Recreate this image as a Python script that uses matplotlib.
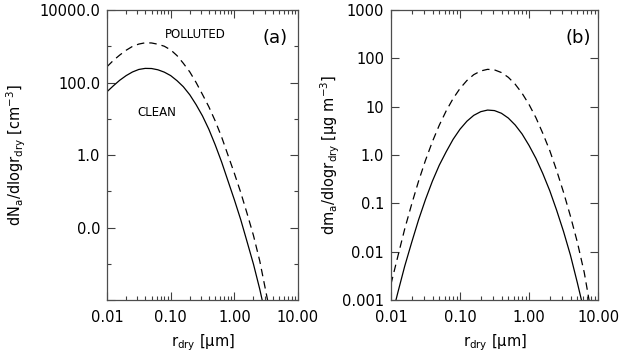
import numpy as np
import matplotlib.pyplot as plt
from matplotlib.ticker import FixedLocator, NullFormatter

plt.rcParams['font.family'] = 'DejaVu Sans'
plt.rcParams['mathtext.default'] = 'regular'

# --- panel (a): number distribution ---
r_clean_a = [0.010, 0.0126, 0.0158, 0.020, 0.0251, 0.0316, 0.0398, 0.0501, 0.0631, 0.0794,
             0.100, 0.126, 0.158, 0.200, 0.251, 0.316, 0.398, 0.501, 0.631, 0.794,
             1.00, 1.26, 1.58, 2.00, 2.51, 2.74]
n_clean = [55.7, 81.3, 115, 155, 195, 229, 245, 243, 224, 193,
           155, 112, 76.6, 45.7, 24.5, 12.0, 5.13, 1.91, 0.646, 0.195,
           0.0589, 0.0166, 0.00417, 0.000977, 0.0002, 0.0001]

r_poll_a = [0.010, 0.0126, 0.0158, 0.020, 0.0251, 0.0316, 0.0398, 0.0501, 0.0631, 0.0794,
            0.100, 0.126, 0.158, 0.200, 0.251, 0.316, 0.398, 0.501, 0.631, 0.794,
            1.00, 1.26, 1.58, 2.00, 2.51, 3.33]
n_poll = [273, 407, 569, 776, 989, 1148, 1245, 1230, 1135, 1000,
          794, 550, 339, 195, 100, 46.8, 21.4, 8.7, 3.16, 1.0,
          0.316, 0.0933, 0.0251, 0.00603, 0.0012, 0.0001]

# --- panel (b): mass distribution ---
r_clean_b = [0.0118, 0.0126, 0.0158, 0.020, 0.0251, 0.0316, 0.0398, 0.0501, 0.0631, 0.0794,
             0.100, 0.126, 0.158, 0.200, 0.251, 0.316, 0.398, 0.501, 0.631, 0.794,
             1.00, 1.26, 1.58, 2.00, 2.51, 3.16, 3.98, 5.01, 5.75]
m_clean = [0.001, 0.00145, 0.00501, 0.0158, 0.0457, 0.120, 0.288, 0.617, 1.17, 2.11,
           3.42, 5.01, 6.61, 7.89, 8.51, 8.30, 7.31, 5.82, 4.17, 2.72,
           1.58, 0.851, 0.417, 0.182, 0.0724, 0.0263, 0.00851, 0.00229, 0.001]

r_poll_b = [0.010, 0.0126, 0.0158, 0.020, 0.0251, 0.0316, 0.0398, 0.0501, 0.0631, 0.0794,
            0.100, 0.126, 0.158, 0.200, 0.251, 0.316, 0.398, 0.501, 0.631, 0.794,
            1.00, 1.26, 1.58, 2.00, 2.51, 3.16, 3.98, 5.01, 6.31, 7.41]
m_poll = [0.00214, 0.00813, 0.0295, 0.0977, 0.288, 0.776, 1.89, 4.14, 8.20, 14.7,
          23.8, 34.8, 45.9, 54.8, 59.2, 57.7, 50.8, 40.5, 29.1, 18.9,
          11.1, 5.90, 2.83, 1.23, 0.481, 0.170, 0.0545, 0.0158, 0.00372, 0.001]

x_ticks = [0.01, 0.1, 1.0, 10.0]
x_ticklabels = ['0.01', '0.10', '1.00', '10.00']
ya_ticks = [1e-4, 1e-2, 1e0, 1e2, 1e4]
ya_ticklabels = ['', '0.0', '1.0', '100.0', '10000.0']
yb_ticks = [1e-3, 1e-2, 1e-1, 1e0, 1e1, 1e2, 1e3]
yb_ticklabels = ['0.001', '0.01', '0.1', '1.0', '10', '100', '1000']

fig = plt.figure(figsize=(6.2, 3.56), dpi=100)
ax1 = fig.add_axes([0.1726, 0.157, 0.308, 0.815])
ax2 = fig.add_axes([0.6306, 0.157, 0.334, 0.815])

dash = (0, (6, 4))
ax1.plot(r_clean_a, n_clean, color='k', lw=0.9)
ax1.plot(r_poll_a, n_poll, color='k', lw=0.9, linestyle=dash)
ax2.plot(r_clean_b, m_clean, color='k', lw=0.9)
ax2.plot(r_poll_b, m_poll, color='k', lw=0.9, linestyle=dash)

for ax in (ax1, ax2):
    ax.set_xscale('log')
    ax.set_yscale('log')
    ax.set_xlim(0.01, 10)
    ax.set_xticks(x_ticks)
    ax.set_xticklabels(x_ticklabels)
    ax.xaxis.set_minor_formatter(NullFormatter())
    ax.tick_params(which='both', direction='in', top=True, right=True, width=0.8, colors='0.25',
                   labelcolor='k', labelsize=10.5)
    ax.tick_params(which='major', length=6)
    ax.tick_params(which='minor', length=3)
    ax.tick_params(axis='y', pad=5)
    ax.tick_params(axis='x', pad=7)
    for s in ax.spines.values():
        s.set_linewidth(0.9)
        s.set_color('0.3')
    ax.set_xlabel(r'r$_{dry}$ [$\mu$m]', fontsize=10.5)
    ax.xaxis.set_label_coords(0.5, -0.112)

ax1.set_ylim(1e-4, 1e4)
ax1.yaxis.set_major_locator(FixedLocator(ya_ticks))
ax1.set_yticklabels(ya_ticklabels)
ax1.yaxis.set_minor_locator(FixedLocator([1e-3, 1e-1, 1e1, 1e3]))
ax1.yaxis.set_minor_formatter(NullFormatter())
ax1.set_ylabel(r'dN$_a$/dlogr$_{dry}$ [cm$^{-3}$]', fontsize=10.5)
ax1.yaxis.set_label_coords(-0.414, 0.5)

ax2.set_ylim(1e-3, 1e3)
ax2.yaxis.set_major_locator(FixedLocator(yb_ticks))
ax2.set_yticklabels(yb_ticklabels)
ax2.yaxis.set_minor_locator(FixedLocator([]))
ax2.set_ylabel(r'dm$_a$/dlogr$_{dry}$ [$\mu$g m$^{-3}$]', fontsize=10.5)
ax2.yaxis.set_label_coords(-0.237, 0.5)

ax1.text(0.461, 0.917, 'POLLUTED', transform=ax1.transAxes, ha='center', va='center', fontsize=8.5)
ax1.text(0.26, 0.648, 'CLEAN', transform=ax1.transAxes, ha='center', va='center', fontsize=8.5)
ax1.text(0.88, 0.903, '(a)', transform=ax1.transAxes, ha='center', va='center', fontsize=13)
ax2.text(0.905, 0.902, '(b)', transform=ax2.transAxes, ha='center', va='center', fontsize=13)

fig.savefig('out.png', dpi=100)
